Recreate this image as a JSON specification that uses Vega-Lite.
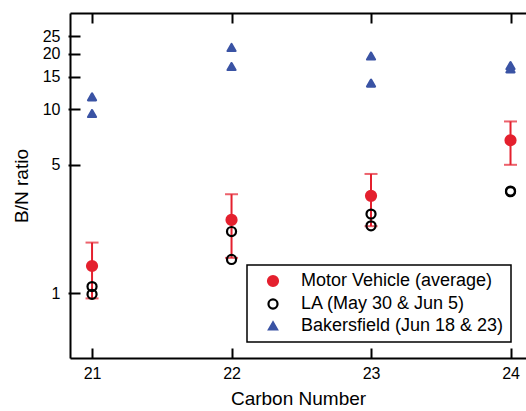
{
  "$schema": "https://vega.github.io/schema/vega-lite/v6.json",
  "width": 456,
  "height": 345,
  "autosize": {"type": "none"},
  "padding": {"left": 70, "top": 13, "right": 0, "bottom": 53},
  "config": {
    "view": {"stroke": null},
    "font": "Liberation Sans",
    "axis": {
      "grid": false,
      "domainColor": "black",
      "domainWidth": 2,
      "tickColor": "black",
      "tickWidth": 2,
      "labelColor": "black",
      "labelFontSize": 16,
      "titleColor": "black",
      "titleFontSize": 19,
      "titleFontWeight": "normal"
    },
    "legend": {
      "strokeColor": "black",
      "strokeWidth": 1.5,
      "fillColor": "white",
      "padding": 7,
      "symbolOffset": 10,
      "labelFontSize": 18,
      "labelColor": "black",
      "labelLimit": 500,
      "symbolStrokeWidth": 2.2,
      "rowPadding": 4,
      "labelOffset": 19
    }
  },
  "data": {
    "values": [
      {"series": "Motor Vehicle (average)", "carbon": 21, "value": 1.41, "lo": 0.94, "hi": 1.89},
      {"series": "Motor Vehicle (average)", "carbon": 22, "value": 2.51, "lo": 1.56, "hi": 3.46},
      {"series": "Motor Vehicle (average)", "carbon": 23, "value": 3.39, "lo": 2.32, "hi": 4.46},
      {"series": "Motor Vehicle (average)", "carbon": 24, "value": 6.8, "lo": 5.0, "hi": 8.6},
      {"series": "LA (May 30 & Jun 5)", "carbon": 21, "value": 1.09},
      {"series": "LA (May 30 & Jun 5)", "carbon": 21, "value": 0.99},
      {"series": "LA (May 30 & Jun 5)", "carbon": 22, "value": 2.17},
      {"series": "LA (May 30 & Jun 5)", "carbon": 22, "value": 1.53},
      {"series": "LA (May 30 & Jun 5)", "carbon": 23, "value": 2.7},
      {"series": "LA (May 30 & Jun 5)", "carbon": 23, "value": 2.33},
      {"series": "LA (May 30 & Jun 5)", "carbon": 24, "value": 3.57},
      {"series": "LA (May 30 & Jun 5)", "carbon": 24, "value": 3.6},
      {"series": "Bakersfield (Jun 18 & 23)", "carbon": 21, "value": 11.7},
      {"series": "Bakersfield (Jun 18 & 23)", "carbon": 21, "value": 9.5},
      {"series": "Bakersfield (Jun 18 & 23)", "carbon": 22, "value": 21.7},
      {"series": "Bakersfield (Jun 18 & 23)", "carbon": 22, "value": 17.1},
      {"series": "Bakersfield (Jun 18 & 23)", "carbon": 23, "value": 19.5},
      {"series": "Bakersfield (Jun 18 & 23)", "carbon": 23, "value": 13.9},
      {"series": "Bakersfield (Jun 18 & 23)", "carbon": 24, "value": 17.3},
      {"series": "Bakersfield (Jun 18 & 23)", "carbon": 24, "value": 16.6}
    ]
  },
  "resolve": {"axis": {"x": "independent", "y": "independent"}},
  "layer": [
    {
      "transform": [{"filter": "datum.hi != null"}],
      "mark": {"type": "rule", "color": "#e4202e", "strokeWidth": 2, "clip": false},
      "encoding": {
        "x": {"field": "carbon", "type": "quantitative",
              "scale": {"domain": [20.842, 24.111], "nice": false, "zero": false},
              "axis": {"orient": "top", "values": [21, 22, 23, 24], "labels": false, "domain": false, "title": null, "tickSize": 10, "offset": -10}},
        "y": {"field": "lo", "type": "quantitative",
              "scale": {"type": "log", "domain": [0.446, 33.4], "nice": false},
              "axis": {"orient": "left", "values": [1, 5, 10, 15, 20, 25], "labels": false, "domain": false, "title": null, "tickSize": 10, "offset": -10}},
        "y2": {"field": "hi"}
      }
    },
    {
      "transform": [{"filter": "datum.hi != null"}],
      "mark": {"type": "tick", "orient": "horizontal", "color": "#e4202e", "size": 13, "thickness": 2, "clip": false},
      "encoding": {
        "x": {"field": "carbon", "type": "quantitative",
              "axis": {"orient": "top", "values": [21, 22, 23, 24], "labels": false, "ticks": false, "title": null}},
        "y": {"field": "hi", "type": "quantitative", "axis": null}
      }
    },
    {
      "transform": [{"filter": "datum.hi != null"}],
      "mark": {"type": "tick", "orient": "horizontal", "color": "#e4202e", "size": 13, "thickness": 2, "clip": false},
      "encoding": {
        "x": {"field": "carbon", "type": "quantitative",
              "axis": {"orient": "bottom", "values": [21, 22, 23, 24], "labels": false, "domain": false, "title": null, "tickSize": 10, "offset": -10}},
        "y": {"field": "lo", "type": "quantitative", "axis": null}
      }
    },
    {
      "mark": {"type": "point", "strokeWidth": 2.2, "strokeJoin": "round", "opacity": 1, "clip": false},
      "encoding": {
        "x": {"field": "carbon", "type": "quantitative",
              "axis": {"orient": "bottom", "values": [21, 22, 23, 24], "format": "d", "title": "Carbon Number", "ticks": false, "labelPadding": 7, "titlePadding": 8}},
        "y": {"field": "value", "type": "quantitative",
              "axis": {"orient": "left", "values": [1, 5, 10, 15, 20, 25], "format": "d", "title": "B/N ratio", "tickSize": 2, "labelPadding": 8, "titlePadding": 11}},
        "shape": {"field": "series", "type": "nominal",
                  "scale": {"domain": ["Motor Vehicle (average)", "LA (May 30 & Jun 5)", "Bakersfield (Jun 18 & 23)"], "range": ["circle", "circle", "triangle-up"]},
                  "legend": {"title": null, "orient": "none", "legendX": 177, "legendY": 252}},
        "fill": {"field": "series", "type": "nominal",
                 "scale": {"domain": ["Motor Vehicle (average)", "LA (May 30 & Jun 5)", "Bakersfield (Jun 18 & 23)"], "range": ["#e4202e", "transparent", "#3a53a4"]},
                 "legend": {"title": null, "orient": "none", "legendX": 177, "legendY": 252}},
        "stroke": {"field": "series", "type": "nominal",
                   "scale": {"domain": ["Motor Vehicle (average)", "LA (May 30 & Jun 5)", "Bakersfield (Jun 18 & 23)"], "range": ["#e4202e", "#000000", "#3a53a4"]},
                   "legend": {"title": null, "orient": "none", "legendX": 177, "legendY": 252}},
        "size": {"field": "series", "type": "nominal",
                 "scale": {"domain": ["Motor Vehicle (average)", "LA (May 30 & Jun 5)", "Bakersfield (Jun 18 & 23)"], "range": [100, 64, 260]},
                 "legend": {"title": null, "orient": "none", "legendX": 177, "legendY": 252}}
      }
    }
  ]
}
